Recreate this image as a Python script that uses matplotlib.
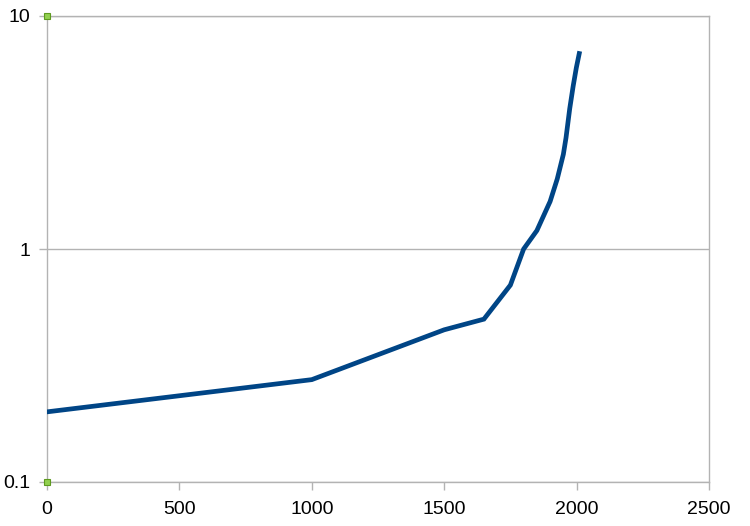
import numpy as np
import matplotlib
matplotlib.use("Agg")
import matplotlib.pyplot as plt
from matplotlib.ticker import FixedLocator, NullLocator, FuncFormatter

# world population (billions) by year
years = [0, 1000, 1500, 1650, 1750, 1800, 1850, 1900, 1927, 1950, 1960, 1974, 1987, 1999, 2010]
pop = [0.2, 0.275, 0.45, 0.5, 0.7, 1.0, 1.2, 1.6, 2.0, 2.55, 3.0, 4.0, 5.0, 6.0, 6.9]

x_ticks = [0, 500, 1000, 1500, 2000, 2500]
y_ticks = [0.1, 1, 10]

plt.rcParams['font.family'] = ['Liberation Sans', 'DejaVu Sans']

fig = plt.figure(figsize=(7.5, 5.26), dpi=100)
ax = fig.add_axes([47/750, 1 - 482/526, 662/750, 466/526])

ax.plot(years, pop, color='#004586', lw=3.4, solid_joinstyle='miter', zorder=3)
# small green handles left at the y axis ends
ax.plot([0, 0], [y_ticks[0], y_ticks[-1]], ls='none', marker='s', ms=5,
        mfc='#92d050', mec='#5e9a20', mew=0.8, clip_on=False, zorder=4)

ax.set_yscale('log')
ax.set_xlim(0, 2500)
ax.set_ylim(0.1, 10)
ax.xaxis.set_major_locator(FixedLocator(x_ticks))
ax.yaxis.set_major_locator(FixedLocator(y_ticks))
ax.yaxis.set_minor_locator(NullLocator())
ax.yaxis.set_major_formatter(FuncFormatter(lambda v, p: '%g' % v))

ax.grid(axis='y', color='#b3b3b3', lw=1)
for s in ax.spines.values():
    s.set_color('#b3b3b3')
    s.set_linewidth(1)
ax.tick_params(axis='both', colors='#b3b3b3', labelcolor='black', labelsize=14,
               length=6, width=1, direction='out')
ax.tick_params(axis='x', pad=8)
ax.tick_params(axis='y', pad=6)

fig.savefig('out.png', dpi=100)
